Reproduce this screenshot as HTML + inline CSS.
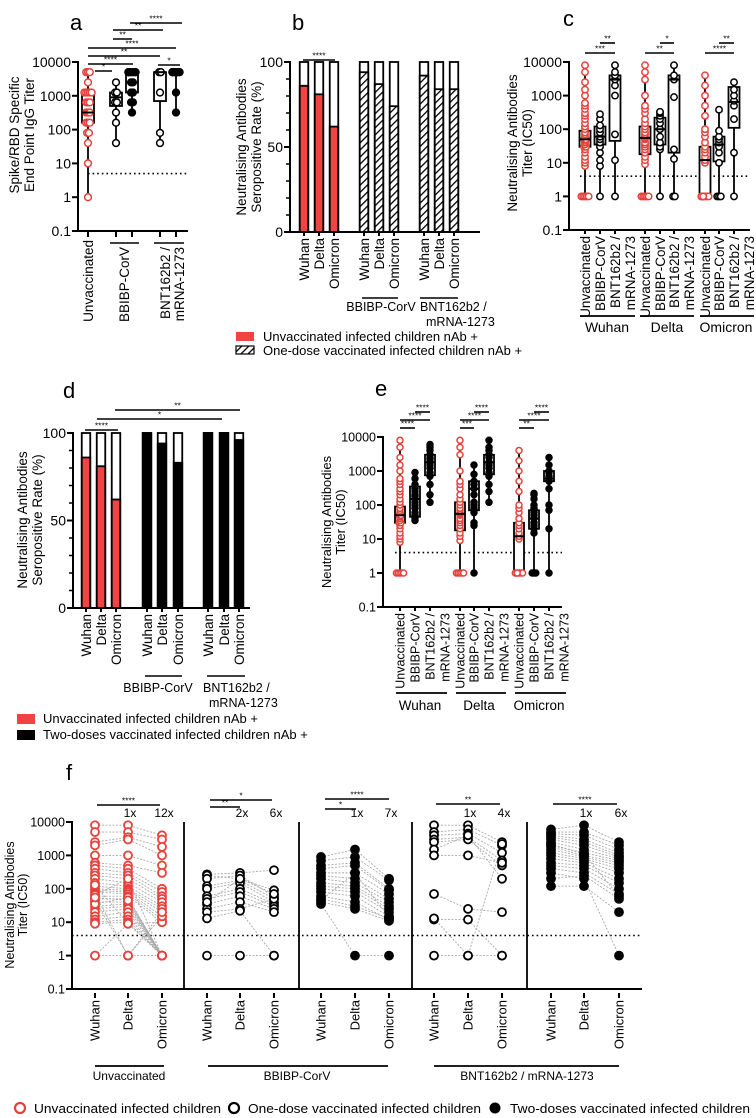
<!DOCTYPE html>
<html><head><meta charset="utf-8"><style>
html,body{margin:0;padding:0;background:#fff}
svg{display:block;font-family:"Liberation Sans",Arial,sans-serif}
</style></head><body>
<svg id="s" width="756" height="1118" viewBox="0 0 756 1118" xmlns="http://www.w3.org/2000/svg">
<defs>
<pattern id="hatch" patternUnits="userSpaceOnUse" width="5" height="5" patternTransform="rotate(45)">
<rect width="5" height="5" fill="#fff"/><line x1="0" y1="0" x2="0" y2="5" stroke="#000" stroke-width="2.6"/>
</pattern>
</defs>
<!-- panel letters -->
<text x="70" y="30" font-size="22">a</text>
<text x="292" y="30" font-size="22">b</text>
<text x="563" y="26" font-size="22">c</text>
<text x="63" y="398" font-size="22">d</text>
<text x="375" y="396" font-size="22">e</text>
<text x="66" y="780" font-size="22">f</text>

<!-- y titles -->
<g font-size="13.5" text-anchor="middle">
<text transform="translate(19,135) rotate(-90)">Spike/RBD Specific</text>
<text transform="translate(34,135) rotate(-90)">End Point IgG Titer</text>
<text transform="translate(246,147) rotate(-90)">Neutralising Antibodies</text>
<text transform="translate(261,147) rotate(-90)">Seropositive Rate (%)</text>
<text transform="translate(517,143) rotate(-90)">Neutralising Antibodies</text>
<text transform="translate(532,143) rotate(-90)">Titer (IC50)</text>
<text transform="translate(27,520) rotate(-90)">Neutralising Antibodies</text>
<text transform="translate(42,520) rotate(-90)">Seropositive Rate (%)</text>
<text transform="translate(331,522) rotate(-90)" font-size="13">Neutralising Antibodies</text>
<text transform="translate(345,522) rotate(-90)" font-size="13">Titer (IC50)</text>
<text transform="translate(14,905) rotate(-90)" font-size="12.5">Neutralising Antibodies</text>
<text transform="translate(27,905) rotate(-90)" font-size="12.5">Titer (IC50)</text>
</g>

<!-- legends -->
<g font-size="13">
<rect x="236" y="332" width="18" height="9" fill="#f24343"/>
<text x="263" y="341">Unvaccinated infected children nAb +</text>
<rect x="236" y="346" width="18" height="8" fill="url(#hatch)" stroke="#000" stroke-width="1.2"/>
<text x="263" y="355">One-dose vaccinated infected children nAb +</text>
<rect x="17" y="714" width="18" height="10" fill="#f24343"/>
<text x="43" y="723">Unvaccinated infected children nAb +</text>
<rect x="17" y="730" width="18" height="10" fill="#000"/>
<text x="43" y="739">Two-doses vaccinated infected children nAb +</text>
</g>
<g font-size="12.5">
<circle cx="20" cy="1108" r="5" fill="#fff" stroke="#e8413c" stroke-width="2.2"/>
<text x="34" y="1113" textLength="187" lengthAdjust="spacingAndGlyphs">Unvaccinated infected children</text>
<circle cx="234" cy="1108" r="5" fill="#fff" stroke="#000" stroke-width="2.2"/>
<text x="248" y="1113" textLength="233" lengthAdjust="spacingAndGlyphs">One-dose vaccinated infected children</text>
<circle cx="495" cy="1108" r="5.5" fill="#000"/>
<text x="510" y="1113" textLength="240" lengthAdjust="spacingAndGlyphs">Two-doses vaccinated infected children</text>
</g>
</svg>
<script>
// ---------- DATA ----------
const variants = ['Wuhan','Delta','Omicron'];
const logTicks = [10000,1000,100,10,1,0.1];
const logTickLabels = ['10000','1000','100','10','1','0.1'];
const pctTicks = [100,50,0];
const pctTickLabels = ['100','50','0'];
const groupNames = ['Unvaccinated','BBIBP-CorV','BNT162b2 /'];

// panel a
const aUnvacc = [5000,5000,5000,2500,1250,1250,1250,1250,1250,640,640,640,320,320,320,160,160,160,80,80,40,10,1];
const aUnvaccBox = [1,160,320,1250,5000];
const aBbibpOne = [2500,1250,1250,640,640,320,160,40];
const aBbibpOneBox = [40,500,900,1250,2500];
const aBbibpTwo = [5000,5000,5000,5000,5000,5000,2500,2500,1250,1250,640,640,320];
const aBbibpTwoBox = [320,1250,2500,5000,5000];
const aBntOne = [5000,5000,1250,80,40];
const aBntOneBox = [40,700,5000,5000,5000];
const aBntTwo = [5000,5000,5000,5000,5000,5000,1250,320];
const aBntTwoBox = [320,5000,5000,5000,5000];

// panel b / d
const bUnvacc = [86,81,62];
const bBbibpOne = [94,87,74];
const bBntOne = [92,84,84];
const dUnvacc = [86,81,62];
const dBbibpTwo = [100,94,83];
const dBntTwo = [100,100,96];

// panel c / e
const unvWuhan = [1,1,1,1,1,8,10,12,15,20,25,30,30,35,40,45,50,50,60,70,80,100,120,150,200,250,300,400,500,600,1000,1500,2500,5000,8000];
const unvWuhanBox = [1,30,50,90,8000];
const unvDelta = [1,1,1,1,1,9,12,15,20,25,30,35,40,50,55,60,70,80,100,120,150,200,300,400,500,1000,3000,5000,8000];
const unvDeltaBox = [1,18,55,120,8000];
const unvOmicron = [1,1,1,1,1,1,1,10,12,15,20,25,30,40,60,80,100,250,500,1000,2000,4000];
const unvOmicronBox = [1,1,12,30,4000];
const cBbibpWuhan = [1,8,12,20,30,40,50,60,80,100,130,200,280];
const cBbibpWuhanBox = [1,35,60,120,280];
const cBntWuhan = [1,12,70,1000,2000,3000,4000,5000,8000];
const cBntWuhanBox = [1,45,3000,4000,8000];
const cBbibpDelta = [1,25,30,40,60,100,150,200,250,300,330];
const cBbibpDeltaBox = [1,35,100,220,330];
const cBntDelta = [1,1,13,25,900,3000,4000,8000];
const cBntDeltaBox = [1,20,3000,4000,8000];
const cBbibpOmicron = [1,1,1,10,20,30,40,50,60,90,380];
const cBbibpOmicronBox = [1,11,35,60,380];
const cBntOmicron = [1,20,200,500,700,1000,1500,2500];
const cBntOmicronBox = [1,110,650,1800,2500];
const eBbibpWuhan = [35,40,45,50,60,80,100,120,150,180,200,250,300,400,600,900];
const eBbibpWuhanBox = [35,45,150,350,900];
const eBntWuhan = [120,200,400,700,900,1200,1500,1800,2200,2500,3000,4000,5000,6000];
const eBntWuhanBox = [120,750,1800,3000,6000];
const eBbibpDelta = [1,25,30,60,80,100,120,200,300,400,500,800,1500];
const eBbibpDeltaBox = [1,70,300,500,1500];
const eBntDelta = [120,250,400,700,900,1200,1500,1800,2500,3000,4000,5000,8000];
const eBntDeltaBox = [120,800,1800,3000,8000];
const eBbibpOmicron = [1,1,1,15,20,25,30,40,50,60,80,100,150,200,220];
const eBbibpOmicronBox = [1,20,40,70,220];
const eBntOmicron = [1,20,70,100,300,500,600,700,900,1000,1500,2500];
const eBntOmicronBox = [1,500,600,1000,2500];

// panel f paired [Wuhan, Delta, Omicron]
const fUnvacc = [[8000,8000,4000],[5000,5000,3000],[2500,3500,1800],[2000,3000,1000],[1000,1000,500],[600,500,300],[500,400,100],[400,300,80],[300,250,60],[250,200,50],[200,150,40],[150,120,30],[120,100,25],[100,90,20],[90,80,15],[80,70,12],[60,60,10],[50,50,1],[40,40,1],[30,35,1],[25,30,1],[20,25,1],[15,20,1],[12,15,1],[10,12,1],[9,10,1],[1,1,1],[1,9,10],[70,1,15],[45,1,20],[35,55,1],[65,200,1],[55,45,1],[130,9,1]];
const fBbibpOne = [[270,300,360],[250,200,90],[200,250,60],[120,180,50],[100,150,40],[60,100,35],[50,80,30],[35,60,25],[25,40,20],[20,25,50],[13,22,1],[1,1,1],[40,200,70]];
const fBbibpTwo = [[900,1500,200],[700,900,180],[500,600,100],[400,500,90],[300,300,70],[250,200,50],[200,150,40],[150,120,30],[120,100,25],[100,80,20],[80,60,15],[60,40,12],[50,30,13],[40,25,11],[35,1,1],[45,300,14]];
const fBntOne = [[8000,8000,2500],[5000,6000,2000],[4000,4500,1200],[3000,3500,700],[2500,3000,500],[1500,4000,200],[1000,1000,600],[70,25,20],[12,12,1],[1,1,1],[13,1,2200]];
const fBntTwo = [[6000,8000,2500],[5000,5000,2000],[4500,4000,1500],[4000,3000,1200],[3500,2500,1000],[3000,2000,900],[2500,1500,800],[2000,1200,700],[1800,1000,600],[1500,900,500],[1200,800,400],[1000,700,300],[800,600,200],[600,500,150],[500,400,100],[400,300,70],[200,250,50],[120,120,20],[300,200,1],[2200,1100,60]];
const fFold = [['1x','12x'],['2x','6x'],['1x','7x'],['1x','4x'],['1x','6x']];

// ---------- HELPERS ----------
const NS='http://www.w3.org/2000/svg';
const svg=document.getElementById('s');
function mk(tag,a,p){const e=document.createElementNS(NS,tag);for(const k in a)e.setAttribute(k,a[k]);(p||svg).appendChild(e);return e;}
function logScale(top,bottom){return v=>top+(4-Math.log10(v))*(bottom-top)/5;}
function linScale(top,bottom){return v=>bottom-(v/100)*(bottom-top);}
const RED='#e8413c', BARRED='#f24343';

function yAxis(name,x,y,ticks,labels,fs,minor){
  let e=mk('line',{x1:x,y1:y(ticks[0])-1,x2:x,y2:y(ticks[ticks.length-1]),stroke:'#000','stroke-width':2});
  
  
  ticks.forEach((t,i)=>{
    let l=mk('line',{x1:x-6,y1:y(t),x2:x,y2:y(t),stroke:'#000','stroke-width':2});
    
    
    let tx=mk('text',{x:x-7,y:y(t)+fs*0.36,'font-size':fs,'text-anchor':'end'});
    tx.textContent=labels[i];
    
    
  });
  if(minor){for(let v=10;v<100;v+=10){let m=mk('line',{x1:x-4,y1:y(v),x2:x,y2:y(v),stroke:'#000','stroke-width':1.5});
    
    }}
}
function xAxis(name,x1,x2,yy){
  let e=mk('line',{x1:x1,y1:yy,x2:x2,y2:yy,stroke:'#000','stroke-width':2});
  
  
}
function xLabel(name,x,yTop,txt,fs){
  let t=mk('line',{x1:x,y1:yTop-7,x2:x,y2:yTop-2,stroke:'#000','stroke-width':2});
  
  
  let e=mk('text',{transform:`translate(${x+fs*0.36},${yTop}) rotate(-90)`,'font-size':fs,'text-anchor':'end'});
  e.textContent=txt;
  
  
}
function rotText(name,x,yTop,txt,fs){
  let e=mk('text',{transform:`translate(${x+fs*0.36},${yTop}) rotate(-90)`,'font-size':fs,'text-anchor':'end'});
  e.textContent=txt;
  
  
}
function hline(name,x1,x2,yy,w,dash){
  let e=mk('line',{x1:x1,y1:yy,x2:x2,y2:yy,stroke:'#000','stroke-width':w||1.6});
  if(dash)e.setAttribute('stroke-dasharray',dash);
  
  
}
function label(name,x,yy,txt,fs,anchor){
  let e=mk('text',{x:x,y:yy,'font-size':fs,'text-anchor':anchor||'middle'});
  e.textContent=txt;
  
  
}
function sig(name,x1,x2,yy,txt){
  hline(name+'-bar',x1,x2,yy,1.6);
  label(name+'-stars',(x1+x2)/2,yy-1.5,txt,8.5);
}
function dotted(name,x1,x2,yy){hline(name,x1,x2,yy,1.6,'1.6,3');}
function points(name,x,vals,style,y,r,spread){
  const seen={};
  vals.forEach(v=>{
    const k=seen[v]||0; seen[v]=k+1;
    const n=vals.filter(u=>u===v).length;
    const off=n>1?((k%5)-Math.min(n-1,4)/2)*spread:0;
    let c=mk('circle',{cx:x+off,cy:y(v),r:r,fill:style==='fill'?'#000':'#fff',stroke:style==='red'?RED:'#000','stroke-width':1.5});
    
    
  });
}
function boxGroup(name,x,vals,box,style,y,w,r){
  let wh=mk('line',{x1:x,y1:y(box[0]),x2:x,y2:y(box[4]),stroke:'#000','stroke-width':1.8});
  
  
  let b=mk('rect',{x:x-w/2,y:y(box[3]),width:w,height:Math.max(0.5,y(box[1])-y(box[3])),fill:'#fff',stroke:'#000','stroke-width':1.8});
  
  
  points(name,x,vals,style,y,r,1.8);
  let m=mk('line',{x1:x-w/2,y1:y(box[2]),x2:x+w/2,y2:y(box[2]),stroke:'#000','stroke-width':2});
  
  
}
function bars(name,xs,vals,fill,y,w){
  vals.forEach((v,i)=>{
    let o=mk('rect',{x:xs[i]-w/2,y:y(100),width:w,height:y(0)-y(100),fill:'#fff',stroke:'#000','stroke-width':1.8});
    
    
    let f=mk('rect',{x:xs[i]-w/2,y:y(v),width:w,height:y(0)-y(v),fill:fill,stroke:'#000','stroke-width':1.8});
    
    
  });
}
function paired(name,xs,rows,style,y){
  rows.forEach(r=>{
    let p=mk('polyline',{points:r.map((v,i)=>xs[i]+','+y(v)).join(' '),fill:'none',stroke:'#a8a8a8','stroke-width':0.9,'stroke-dasharray':'2,1.5'});
    
    
  });
  rows.forEach(r=>r.forEach((v,i)=>{
    let c=mk('circle',{cx:xs[i],cy:y(v),r:4,fill:style==='fill'?'#000':'#fff',stroke:style==='red'?RED:'#000','stroke-width':1.8});
    
    
  }));
}

// ---------- PANEL A ----------
const ya=logScale(62,231);
yAxis('a',78,ya,logTicks,logTickLabels,14);
xAxis('a',77,188,231);
dotted('a-detection-limit',88,188,ya(5));
boxGroup('a-unvaccinated',88,aUnvacc,aUnvaccBox,'red',ya,12,3.4);
boxGroup('a-bbibp-one-dose',116,aBbibpOne,aBbibpOneBox,'open',ya,12,3.4);
boxGroup('a-bbibp-two-doses',132,aBbibpTwo,aBbibpTwoBox,'fill',ya,12,3.4);
boxGroup('a-bnt-one-dose',160,aBntOne,aBntOneBox,'open',ya,12,3.4);
boxGroup('a-bnt-two-doses',176,aBntTwo,aBntTwoBox,'fill',ya,12,3.4);
[88,116,132,160,176].forEach(x=>{let t=mk('line',{x1:x,y1:231,x2:x,y2:237,stroke:'#000','stroke-width':2});});
rotText('a-x-label-unvaccinated',88,240,groupNames[0],13.5);
hline('a-bbibp-underline',110,139,243,1.6);
rotText('a-x-label-bbibp',124,247,groupNames[1],13.5);
hline('a-bnt-underline',154,184,243,1.6);
rotText('a-x-label-bnt-1',165,247,groupNames[2],13.5);
rotText('a-x-label-bnt-2',179,247,'mRNA-1273',13.5);
sig('a-sig-1',95,112,71,'*');
sig('a-sig-2',88,133,64,'****');
sig('a-sig-3',88,160,56,'**');
sig('a-sig-4',88,176,48,'****');
sig('a-sig-5',113,132,39,'**');
sig('a-sig-6',113,163,30,'**');
sig('a-sig-7',130,182,23,'****');
sig('a-sig-8',158,180,65,'*');

// ---------- PANEL B ----------
const yb=linScale(62,232);
yAxis('b',290,yb,pctTicks,pctTickLabels,14,true);
xAxis('b',289,480,232);
const bX1=[304,319,334], bX2=[364,379,394], bX3=[424,439,454];
bars('b-unvaccinated',bX1,bUnvacc,BARRED,yb,8.5);
bars('b-bbibp-one-dose',bX2,bBbibpOne,'url(#hatch)',yb,8.5);
bars('b-bnt-one-dose',bX3,bBntOne,'url(#hatch)',yb,8.5);
[bX1,bX2,bX3].forEach(xs=>xs.forEach((x,i)=>xLabel('b',x,238,variants[i],13.5)));
sig('b-sig-1',303,335,60,'****');
hline('b-bbibp-underline',362,398,298,1.6);
label('b-group-bbibp',381,311,'BBIBP-CorV',12.5);
hline('b-bnt-underline',420,458,298,1.6);
label('b-group-bnt-1',420,311,'BNT162b2 /',12.5,'start');
label('b-group-bnt-2',426,326,'mRNA-1273',12.5,'start');

// ---------- PANEL C ----------
const yc=logScale(62,230);
yAxis('c',569,yc,logTicks,logTickLabels,14);
xAxis('c',568,750,230);
dotted('c-detection-limit',580,750,yc(4));
const cX=[[585,600,615],[645,660,674],[705,719,734]];
const cU=[[unvWuhan,unvWuhanBox],[unvDelta,unvDeltaBox],[unvOmicron,unvOmicronBox]];
const cB=[[cBbibpWuhan,cBbibpWuhanBox],[cBbibpDelta,cBbibpDeltaBox],[cBbibpOmicron,cBbibpOmicronBox]];
const cN=[[cBntWuhan,cBntWuhanBox],[cBntDelta,cBntDeltaBox],[cBntOmicron,cBntOmicronBox]];
for(let g=0;g<3;g++){
  const v=variants[g].toLowerCase();
  boxGroup('c-'+v+'-unvaccinated',cX[g][0],cU[g][0],cU[g][1],'red',yc,11,3.2);
  boxGroup('c-'+v+'-bbibp',cX[g][1],cB[g][0],cB[g][1],'open',yc,11,3.2);
  boxGroup('c-'+v+'-bnt',cX[g][2],cN[g][0],cN[g][1],'open',yc,11,3.2);
  xLabel('c',cX[g][0],236,groupNames[0],13.5);
  xLabel('c',cX[g][1],236,groupNames[1],13.5);
  xLabel('c',cX[g][2],236,groupNames[2],13.5);
  rotText('c-x-label-mrna',cX[g][2]+15,236,'mRNA-1273',13.5);
  hline('c-group-underline-'+v,cX[g][0]-5,cX[g][2]+20,316,1.8);
  label('c-group-label-'+v,cX[g][1]+7,332,variants[g],14);
  sig('c-sig-'+v+'-1',cX[g][0],cX[g][2],53,g===0?'***':g===1?'**':'****');
  sig('c-sig-'+v+'-2',cX[g][1],cX[g][2],43,g===1?'*':'**');
}

// ---------- PANEL D ----------
const yd=linScale(433,608);
yAxis('d',73,yd,pctTicks,pctTickLabels,14,true);
xAxis('d',72,250,608);
const dX1=[86,101,116], dX2=[147,162,178], dX3=[208,224,239];
bars('d-unvaccinated',dX1,dUnvacc,BARRED,yd,8.5);
bars('d-bbibp-two-doses',dX2,dBbibpTwo,'#000',yd,8.5);
bars('d-bnt-two-doses',dX3,dBntTwo,'#000',yd,8.5);
[dX1,dX2,dX3].forEach(xs=>xs.forEach((x,i)=>xLabel('d',x,614,variants[i],13.5)));
sig('d-sig-1',85,118,430,'****');
sig('d-sig-2',97,222,419,'*');
sig('d-sig-3',115,240,410,'**');
hline('d-bbibp-underline',145,182,676,1.6);
label('d-group-bbibp',158,692,'BBIBP-CorV',12.5);
hline('d-bnt-underline',207,245,676,1.6);
label('d-group-bnt-1',203,692,'BNT162b2 /',12.5,'start');
label('d-group-bnt-2',209,707,'mRNA-1273',12.5,'start');

// ---------- PANEL E ----------
const ye=logScale(437,607);
yAxis('e',383,ye,logTicks,logTickLabels,12.5);
xAxis('e',382,562,607);
dotted('e-detection-limit',395,562,ye(4));
const eX=[[400,415,430],[460,474,489],[519,534,549]];
const eB=[[eBbibpWuhan,eBbibpWuhanBox],[eBbibpDelta,eBbibpDeltaBox],[eBbibpOmicron,eBbibpOmicronBox]];
const eN=[[eBntWuhan,eBntWuhanBox],[eBntDelta,eBntDeltaBox],[eBntOmicron,eBntOmicronBox]];
for(let g=0;g<3;g++){
  const v=variants[g].toLowerCase();
  boxGroup('e-'+v+'-unvaccinated',eX[g][0],cU[g][0],cU[g][1],'red',ye,10,3);
  boxGroup('e-'+v+'-bbibp',eX[g][1],eB[g][0],eB[g][1],'fill',ye,10,3);
  boxGroup('e-'+v+'-bnt',eX[g][2],eN[g][0],eN[g][1],'fill',ye,10,3);
  xLabel('e',eX[g][0],613,groupNames[0],12.5);
  xLabel('e',eX[g][1],613,groupNames[1],12.5);
  xLabel('e',eX[g][2],613,groupNames[2],12.5);
  rotText('e-x-label-mrna',eX[g][2]+15,613,'mRNA-1273',12.5);
  hline('e-group-underline-'+v,eX[g][0]-4,eX[g][2]+17,693,1.8);
  label('e-group-label-'+v,eX[g][1]+5,710,variants[g],13.5);
  sig('e-sig-'+v+'-1',eX[g][0],eX[g][1],428,g===0?'****':g===1?'***':'**');
  sig('e-sig-'+v+'-2',eX[g][0],eX[g][2],420,'****');
  sig('e-sig-'+v+'-3',eX[g][1],eX[g][2],412,'****');
}

// ---------- PANEL F ----------
const yf=logScale(822,989);
yAxis('f',72,yf,logTicks,logTickLabels,12.5);
const fSeps=[72,184,299,412,527,642];
for(let i=0;i<5;i++){
  xAxis('f-'+(i+1),fSeps[i]-1,fSeps[i+1],989);
  if(i>0){let s=mk('line',{x1:fSeps[i],y1:822,x2:fSeps[i],y2:989,stroke:'#000','stroke-width':1.8});
    
    }
}
dotted('f-detection-limit',72,642,yf(4));
const fX=[[95,128,162],[207,240,274],[321,355,389],[434,468,502],[551,584,619]];
paired('f-unvaccinated',fX[0],fUnvacc,'red',yf);
paired('f-bbibp-one-dose',fX[1],fBbibpOne,'open',yf);
paired('f-bbibp-two-doses',fX[2],fBbibpTwo,'fill',yf);
paired('f-bnt-one-dose',fX[3],fBntOne,'open',yf);
paired('f-bnt-two-doses',fX[4],fBntTwo,'fill',yf);
fX.forEach((xs,p)=>{
  xs.forEach((x,i)=>xLabel('f',x,1000,variants[i],13));
  label('f-fold-delta',xs[1]+2,817,fFold[p][0],12);
  label('f-fold-omicron',xs[2]+2,817,fFold[p][1],12);
});
sig('f1-sig',97,160,805,'****');
sig('f2-sig-1',210,240,807,'**');
sig('f2-sig-2',210,272,800,'*');
sig('f3-sig-1',325,356,809,'*');
sig('f3-sig-2',325,389,799,'****');
sig('f4-sig',436,500,804,'**');
sig('f5-sig',553,617,804,'****');
hline('f-unvaccinated-underline',95,164,1066,1.8);
label('f-group-unvaccinated',129,1080,'Unvaccinated',12);
hline('f-bbibp-underline',208,388,1066,1.8);
label('f-group-bbibp',297,1080,'BBIBP-CorV',12);
hline('f-bnt-underline',434,619,1066,1.8);
label('f-group-bnt',527,1080,'BNT162b2 / mRNA-1273',12);
</script>
</body></html>
